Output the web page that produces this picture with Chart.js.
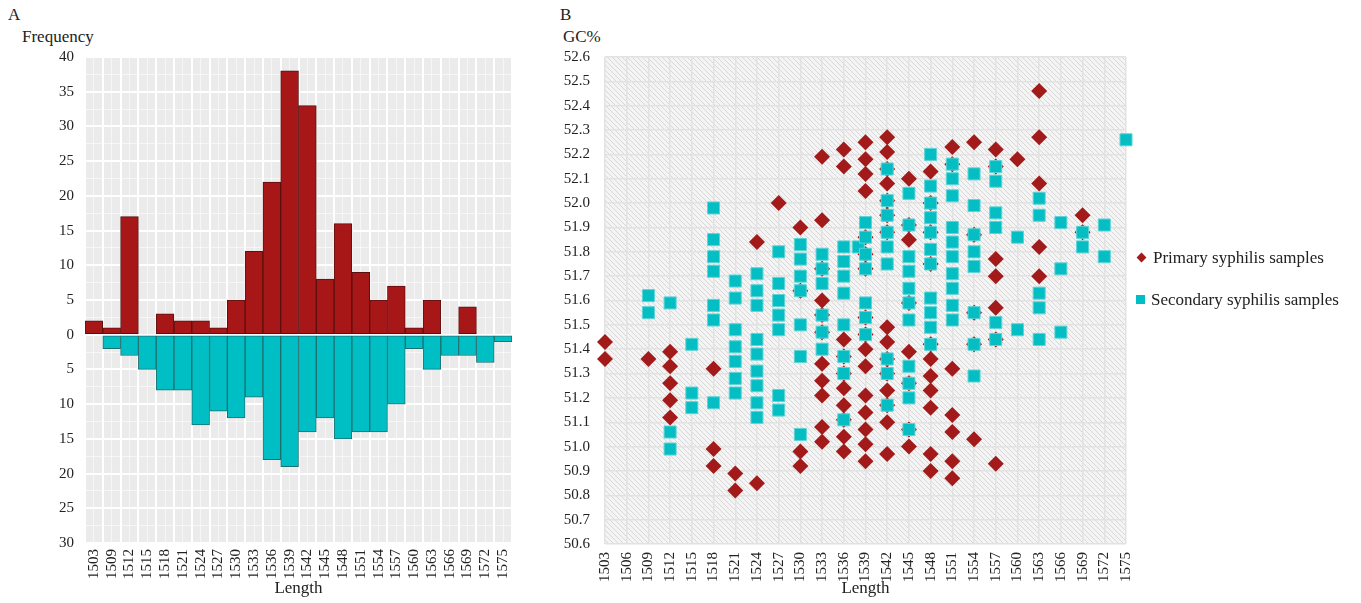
<!DOCTYPE html>
<html>
<head>
<meta charset="utf-8">
<script src="https://cdn.jsdelivr.net/npm/chart.js@4.4.1/dist/chart.umd.min.js"></script>
<style>
  body { margin: 0; background: #fff; font-family: "Liberation Serif", "Times New Roman", serif; color: #222; }
  #wrap { position: relative; width: 1361px; height: 603px; overflow: hidden; }
  .lbl { position: absolute; font-size: 17px; line-height: 20px; white-space: nowrap; }
  #boxA { position: absolute; left: 0; top: 0; width: 540px; height: 603px; }
  #boxB { position: absolute; left: 540px; top: 0; width: 612px; height: 603px; }
  .leg { position: absolute; left: 1136px; font-size: 17px; line-height: 20px; white-space: nowrap; }
  .mk { display: inline-block; vertical-align: middle; margin-right: 6px; position: relative; top: -2px; }
  .dia { width: 7px; height: 7px; background: #a31a1a; transform: rotate(45deg); margin-left: 2px; margin-right: 8px; }
  .sq { width: 9px; height: 9px; background: #00bfc4; }
</style>
</head>
<body>
<div id="wrap">
  <div class="lbl" style="left:8px;top:5px;">A</div>
  <div class="lbl" style="left:22px;top:27px;">Frequency</div>
  <div class="lbl" style="left:560px;top:5px;">B</div>
  <div class="lbl" style="left:563px;top:27px;">GC%</div>
  <div id="boxA"><canvas id="histChart"></canvas></div>
  <div id="boxB"><canvas id="gcChart"></canvas></div>
  <div class="leg" style="top:248px;"><span class="mk dia"></span>Primary syphilis samples</div>
  <div class="leg" style="top:290px;"><span class="mk sq"></span>Secondary syphilis samples</div>
</div>

<script>
// Panel A: length histogram (primary up, secondary down)
const lengths = ['1503', '1509', '1512', '1515', '1518', '1521', '1524', '1527', '1530', '1533', '1536', '1539',
                 '1542', '1545', '1548', '1551', '1554', '1557', '1560', '1563', '1566', '1569', '1572', '1575'];
const primaryFreq   = [2, 1, 17, 0, 3, 2, 2, 1, 5, 12, 22, 38, 33, 8, 16, 9, 5, 7, 1, 5, 0, 4, 0, 0];
const secondaryFreq = [0, 2, 3, 5, 8, 8, 13, 11, 12, 9, 18, 19, 14, 12, 15, 14, 14, 10, 2, 5, 3, 3, 4, 1];

// Panel B: length vs GC%, [length, GC%]
const primaryPoints = [
  [1503, 51.43], [1503, 51.36],
  [1509, 51.36],
  [1512, 51.39], [1512, 51.33], [1512, 51.26], [1512, 51.19], [1512, 51.12],
  [1518, 51.32], [1518, 50.99], [1518, 50.92],
  [1521, 50.89], [1521, 50.82],
  [1524, 51.84], [1524, 50.85],
  [1527, 52.00],
  [1530, 51.90], [1530, 51.64], [1530, 50.98], [1530, 50.92],
  [1533, 52.19], [1533, 51.93], [1533, 51.73], [1533, 51.60], [1533, 51.54], [1533, 51.47], [1533, 51.34],
  [1533, 51.27], [1533, 51.21], [1533, 51.08], [1533, 51.02],
  [1536, 52.22], [1536, 52.15], [1536, 51.44], [1536, 51.37], [1536, 51.30], [1536, 51.24], [1536, 51.17],
  [1536, 51.11], [1536, 51.04], [1536, 50.98],
  [1539, 52.25], [1539, 52.18], [1539, 52.12], [1539, 52.05], [1539, 51.86], [1539, 51.79], [1539, 51.73],
  [1539, 51.53], [1539, 51.46], [1539, 51.40], [1539, 51.33], [1539, 51.21], [1539, 51.14], [1539, 51.07],
  [1539, 51.01], [1539, 50.94],
  [1542, 52.27], [1542, 52.21], [1542, 52.14], [1542, 52.08], [1542, 52.01], [1542, 51.95], [1542, 51.88],
  [1542, 51.49], [1542, 51.43], [1542, 51.36], [1542, 51.30], [1542, 51.23], [1542, 51.17], [1542, 51.10],
  [1542, 50.97],
  [1545, 52.10], [1545, 51.91], [1545, 51.85], [1545, 51.59], [1545, 51.39], [1545, 51.26], [1545, 51.07],
  [1545, 51.00],
  [1548, 52.13], [1548, 52.00], [1548, 51.88], [1548, 51.75], [1548, 51.42], [1548, 51.36], [1548, 51.29],
  [1548, 51.23], [1548, 51.16], [1548, 50.97], [1548, 50.90],
  [1551, 52.23], [1551, 52.16], [1551, 51.32], [1551, 51.13], [1551, 51.06], [1551, 50.94], [1551, 50.87],
  [1554, 52.25], [1554, 51.87], [1554, 51.55], [1554, 51.42], [1554, 51.03],
  [1557, 52.22], [1557, 52.15], [1557, 51.77], [1557, 51.70], [1557, 51.57], [1557, 51.44], [1557, 50.93],
  [1560, 52.18],
  [1563, 52.46], [1563, 52.27], [1563, 52.08], [1563, 51.82], [1563, 51.70],
  [1569, 51.95], [1569, 51.88]
];
const secondaryPoints = [
  [1509, 51.62], [1509, 51.55],
  [1512, 51.59], [1512, 51.06], [1512, 50.99],
  [1515, 51.42], [1515, 51.22], [1515, 51.16],
  [1518, 51.98], [1518, 51.85], [1518, 51.78], [1518, 51.72], [1518, 51.58], [1518, 51.52], [1518, 51.18],
  [1521, 51.68], [1521, 51.61], [1521, 51.48], [1521, 51.41], [1521, 51.35], [1521, 51.28], [1521, 51.22],
  [1524, 51.71], [1524, 51.64], [1524, 51.58], [1524, 51.44], [1524, 51.38], [1524, 51.31], [1524, 51.25],
  [1524, 51.18], [1524, 51.12],
  [1527, 51.80], [1527, 51.67], [1527, 51.60], [1527, 51.54], [1527, 51.48], [1527, 51.21], [1527, 51.15],
  [1530, 51.83], [1530, 51.77], [1530, 51.70], [1530, 51.64], [1530, 51.50], [1530, 51.37], [1530, 51.05],
  [1533, 51.79], [1533, 51.73], [1533, 51.67], [1533, 51.54], [1533, 51.47], [1533, 51.40],
  [1536, 51.82], [1536, 51.76], [1536, 51.70], [1536, 51.63], [1536, 51.50], [1536, 51.37], [1536, 51.30],
  [1536, 51.11],
  [1538, 51.82],
  [1539, 51.92], [1539, 51.86], [1539, 51.79], [1539, 51.73], [1539, 51.59], [1539, 51.53], [1539, 51.46],
  [1542, 52.14], [1542, 52.01], [1542, 51.95], [1542, 51.88], [1542, 51.82], [1542, 51.75], [1542, 51.36],
  [1542, 51.30], [1542, 51.17],
  [1545, 52.04], [1545, 51.91], [1545, 51.78], [1545, 51.72], [1545, 51.65], [1545, 51.59], [1545, 51.52],
  [1545, 51.33], [1545, 51.26], [1545, 51.20], [1545, 51.07],
  [1548, 52.20], [1548, 52.07], [1548, 52.00], [1548, 51.94], [1548, 51.88], [1548, 51.81], [1548, 51.75],
  [1548, 51.61], [1548, 51.55], [1548, 51.49], [1548, 51.42],
  [1551, 52.16], [1551, 52.10], [1551, 52.03], [1551, 51.90], [1551, 51.84], [1551, 51.78], [1551, 51.71],
  [1551, 51.65], [1551, 51.58], [1551, 51.52],
  [1554, 52.12], [1554, 51.99], [1554, 51.87], [1554, 51.80], [1554, 51.74], [1554, 51.55], [1554, 51.42],
  [1554, 51.29],
  [1557, 52.15], [1557, 52.09], [1557, 51.96], [1557, 51.90], [1557, 51.51], [1557, 51.44],
  [1560, 51.86], [1560, 51.48],
  [1563, 52.02], [1563, 51.95], [1563, 51.63], [1563, 51.57], [1563, 51.44],
  [1566, 51.92], [1566, 51.73], [1566, 51.47],
  [1569, 51.88], [1569, 51.82],
  [1572, 51.91], [1572, 51.78],
  [1575, 52.26]
];

const serif = '"Liberation Serif", "Times New Roman", serif';
const tickFont = { family: serif, size: 15 };

// fills the plot area before grid and data are drawn
const panelFill = {
  id: 'panelFill',
  beforeDraw(chart, args, opts) {
    const { ctx, chartArea: a } = chart;
    ctx.save();
    if (opts.hatch) {
      const c = document.createElement('canvas');
      c.width = c.height = 5;
      const g = c.getContext('2d');
      g.fillStyle = '#f4f4f4';
      g.fillRect(0, 0, 5, 5);
      g.strokeStyle = '#d8d8d8';
      g.lineWidth = 1;
      g.beginPath();
      g.moveTo(-1, -1); g.lineTo(6, 6);
      g.moveTo(-6, -1); g.lineTo(1, 6);
      g.moveTo(4, -1); g.lineTo(11, 6);
      g.stroke();
      ctx.fillStyle = ctx.createPattern(c, 'repeat');
    } else {
      ctx.fillStyle = opts.color;
    }
    ctx.fillRect(a.left, a.top, a.width, a.height);
    ctx.restore();
  }
};

// Panel A
new Chart(document.getElementById('histChart'), {
  type: 'bar',
  data: {
    labels: lengths,
    datasets: [
      {
        label: 'Primary syphilis samples',
        data: primaryFreq,
        backgroundColor: '#a81717',
        borderColor: '#5a1010',
        borderWidth: 1,
        borderSkipped: false,
        barPercentage: 1,
        categoryPercentage: 1
      },
      {
        label: 'Secondary syphilis samples',
        data: secondaryFreq.map(v => -v),
        backgroundColor: '#00bfc4',
        borderColor: '#1d6f70',
        borderWidth: 1,
        borderSkipped: false,
        barPercentage: 1,
        categoryPercentage: 1
      }
    ]
  },
  options: {
    responsive: true,
    maintainAspectRatio: false,
    animation: false,
    layout: { padding: { left: 0, right: 28, top: 57, bottom: 0 } },
    plugins: {
      legend: { display: false },
      tooltip: { enabled: false },
      panelFill: { color: '#ebebeb' }
    },
    scales: {
      x: {
        stacked: true,
        grid: { offset: true, color: '#ffffff', lineWidth: 2, drawTicks: false },
        border: { display: false },
        ticks: { font: tickFont, color: '#222', minRotation: 90, maxRotation: 90, padding: 6, autoSkip: false },
        title: { display: true, text: 'Length', font: { family: serif, size: 17 }, color: '#222', padding: { top: 0, bottom: 4 } },
        afterFit: s => { s.height = 60; }
      },
      xMinor: {
        type: 'category',
        labels: lengths,
        position: 'bottom',
        grid: { offset: false, color: 'rgba(255,255,255,0.55)', lineWidth: 1, drawTicks: false },
        border: { display: false },
        ticks: { display: false },
        afterFit: s => { s.height = 0; }
      },
      y: {
        stacked: true,
        min: -30,
        max: 40,
        grid: { color: '#ffffff', lineWidth: 2, drawTicks: false },
        border: { display: false },
        ticks: { stepSize: 5, font: tickFont, color: '#222', padding: 11, callback: v => Math.abs(v) },
        afterFit: s => { s.width = 85; }
      },
      yMinor: {
        min: -30,
        max: 40,
        position: 'left',
        grid: { color: 'rgba(255,255,255,0.55)', lineWidth: 1, drawTicks: false },
        border: { display: false },
        ticks: { display: false, stepSize: 2.5 },
        afterFit: s => { s.width = 0; }
      }
    }
  },
  plugins: [panelFill]
});

// Panel B
new Chart(document.getElementById('gcChart'), {
  type: 'scatter',
  data: {
    datasets: [
      {
        label: 'Primary syphilis samples',
        data: primaryPoints.map(p => ({ x: p[0], y: p[1] })),
        pointStyle: 'rectRot',
        pointRadius: 8,
        pointHoverRadius: 8,
        backgroundColor: '#a31a1a',
        borderColor: '#a31a1a',
        borderWidth: 0,
        clip: false,
        order: 2
      },
      {
        label: 'Secondary syphilis samples',
        data: secondaryPoints.map(p => ({ x: p[0], y: p[1] })),
        pointStyle: 'rect',
        pointRadius: 8.5,
        pointHoverRadius: 8.5,
        backgroundColor: '#04bec3',
        borderColor: '#5fd3d6',
        borderWidth: 1,
        clip: false,
        order: 1
      }
    ]
  },
  options: {
    responsive: true,
    maintainAspectRatio: false,
    animation: false,
    layout: { padding: { left: 0, right: 0, top: 57, bottom: 0 } },
    plugins: {
      legend: { display: false },
      tooltip: { enabled: false },
      panelFill: { hatch: true }
    },
    scales: {
      x: {
        type: 'linear',
        min: 1503,
        max: 1575,
        grid: { color: '#e2e2e2', lineWidth: 1.5, drawTicks: false },
        border: { display: false },
        ticks: { stepSize: 3, font: tickFont, color: '#222', minRotation: 90, maxRotation: 90, padding: 8,
                 autoSkip: false, callback: v => String(v) },
        title: { display: true, text: 'Length', font: { family: serif, size: 17 }, color: '#222', padding: { top: 0, bottom: 4 } },
        afterFit: s => { s.height = 59; }
      },
      y: {
        min: 50.6,
        max: 52.6,
        grid: { color: '#e2e2e2', lineWidth: 1.5, drawTicks: false },
        border: { display: false },
        ticks: { stepSize: 0.1, font: tickFont, color: '#222', padding: 15, callback: v => v.toFixed(1) },
        afterFit: s => { s.width = 65; }
      }
    }
  },
  plugins: [panelFill]
});
</script>
</body>
</html>
